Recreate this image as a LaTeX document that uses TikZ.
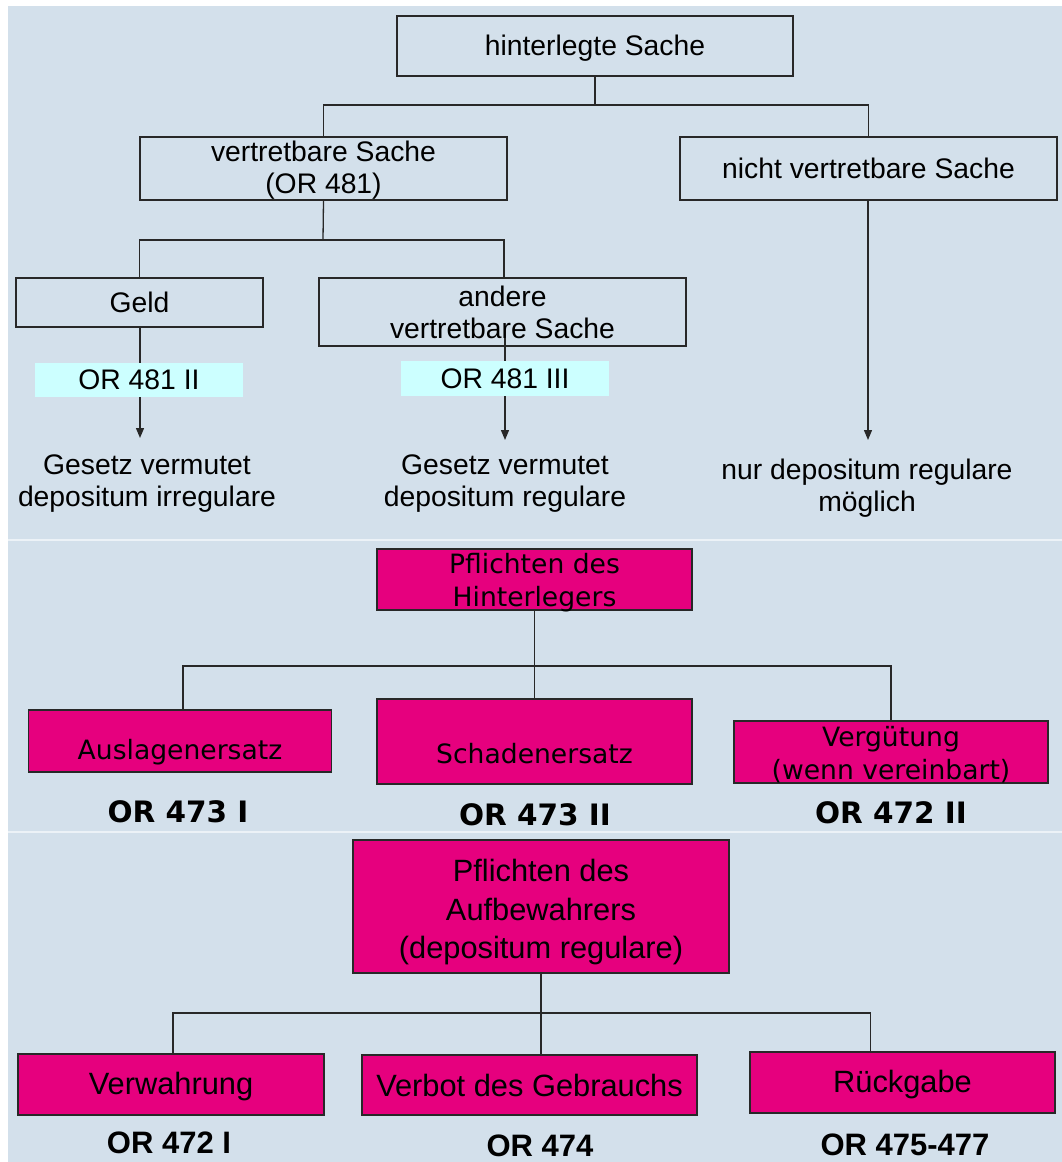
\documentclass[tikz,border=0pt]{standalone}
\usepackage{fontspec}
\setmainfont{Liberation Sans}
\newfontfamily\verdfont{DejaVu Sans}
\usetikzlibrary{arrows.meta}
\definecolor{bgblue}{RGB}{211,224,235}
\definecolor{sepline}{RGB}{236,242,247}
\definecolor{pinkfill}{RGB}{230,0,126}
\definecolor{cyanfill}{RGB}{204,255,255}
\definecolor{linec}{RGB}{40,40,40}
% lower a text line without changing the box it sits in
\newcommand\lowered[2]{\raisebox{-#1}[\height][\depth]{#2}}
\tikzset{
  conn/.style={draw=linec, line width=1.3pt},
  arr/.style={conn, -{Triangle[length=10pt,width=8pt]}},
  topfont/.style={font=\fontsize{28.3}{32}\selectfont},
  plainbox/.style={draw=linec, line width=1.3pt, inner sep=0pt, align=center, topfont},
  midbox/.style={draw=linec, line width=1.1pt, fill=pinkfill, inner sep=0pt, align=center,
    font=\verdfont\fontsize{26.6}{33}\selectfont},
  lowbox/.style={draw=linec, line width=1.1pt, fill=pinkfill, inner sep=0pt, align=center,
    font=\fontsize{30.8}{38.5}\selectfont},
  cyanlab/.style={fill=cyanfill, inner sep=0pt, topfont},
  plaintext/.style={inner sep=0pt, align=center, topfont},
  midref/.style={inner sep=0pt, font=\verdfont\bfseries\fontsize{29.5}{32}\selectfont},
  lowref/.style={inner sep=0pt, font=\bfseries\fontsize{31}{34}\selectfont},
}
\begin{document}
\begin{tikzpicture}[x=1pt,y=-1pt]
\useasboundingbox (0,0) rectangle (1062,1162);
\fill[white] (0,0) rectangle (1062,1162);
\fill[bgblue] (8,6) rectangle (1062,1162);
% section separators
\draw[sepline, line width=2pt] (8,540) -- (1062,540);
\draw[sepline, line width=2pt] (8,832) -- (1062,832);

% ---------- kind of deposited thing ----------
\node[plainbox, minimum width=396pt, minimum height=60pt] (top) at (595,46) {\lowered{2pt}{hinterlegte Sache}};
\node[plainbox, minimum width=367pt, minimum height=63pt] (vs) at (323.5,168.5) {\lowered{2pt}{vertretbare Sache}\\\lowered{2pt}{(OR 481)}};
\node[plainbox, minimum width=377pt, minimum height=63pt] (nvs) at (868.5,168.5) {nicht vertretbare Sache};
\node[plainbox, minimum width=247pt, minimum height=49pt] (geld) at (139.5,302.5) {Geld};
\node[plainbox, minimum width=367pt, minimum height=68pt] (andere) at (502.5,312) {andere\\vertretbare Sache};

\coordinate (jt) at (595,105);
\coordinate (jv) at (323,240);
\draw[conn] (top.south) -- (jt);
\draw[conn] (vs.north) |- (jt) -| (nvs.north);
\draw[conn] (vs.south) -- (jv);
\draw[conn] (geld.north) |- (jv) -| ([xshift=1.5pt]andere.north);

\coordinate (a1) at (140,438);
\coordinate (a2) at (505,440);
\coordinate (a3) at (868,440);
\draw[arr] (geld.south -| a1) -- (a1);
\draw[arr] ([yshift=9pt]andere.south -| a2) -- (a2);
\draw[arr] (nvs.south -| a3) -- (a3);

\node[cyanlab, minimum width=208pt, minimum height=34pt] (c1) at (139,380) {OR 481 II};
\node[cyanlab, minimum width=208pt, minimum height=35pt] (c2) at (505,378.5) {OR 481 III};

\node[plaintext] (r1) at (147,484) {Gesetz vermutet\\depositum irregulare};
\node[plaintext] (r2) at (505,484) {Gesetz vermutet\\depositum regulare};
\node[plaintext] (r3) at (867,488) {nur depositum regulare\\möglich};

% ---------- duties of the depositor ----------
\node[midbox, minimum width=315pt, minimum height=61pt] (ph) at (534.5,579.5) {\lowered{3pt}{Pflichten des}\\\lowered{3pt}{Hinterlegers}};
\node[midbox, minimum width=303pt, minimum height=62pt] (aus) at (180,741) {\lowered{11pt}{Auslagenersatz}};
\node[midbox, minimum width=315pt, minimum height=85pt] (sch) at (534.5,741.5) {\lowered{12pt}{Schadenersatz}};
\node[midbox, minimum width=314pt, minimum height=62pt] (verg) at (891,752) {\lowered{3pt}{Vergütung}\\\lowered{3pt}{(wenn vereinbart)}};

\coordinate (jm) at (534.5,666);
\draw[conn] (ph.south) -- (sch.north);
\draw[conn] ([xshift=3pt]aus.north) |- (jm) -| (verg.north);

\node[midref] (l1) at (178,812) {OR 473 I};
\node[midref] (l2) at (535,815) {OR 473 II};
\node[midref] (l3) at (891,813) {OR 472 II};

% ---------- duties of the bailee ----------
\node[lowbox, minimum width=376pt, minimum height=133pt] (pa) at (541,906.5) {\lowered{6pt}{Pflichten des}\\\lowered{6pt}{Aufbewahrers}\\\lowered{6pt}{(depositum regulare)}};
\node[lowbox, minimum width=306pt, minimum height=61pt] (vw) at (171,1084.5) {\lowered{2pt}{Verwahrung}};
\node[lowbox, minimum width=335pt, minimum height=60pt] (vb) at (529.5,1085) {Verbot des Gebrauchs};
\node[lowbox, minimum width=305pt, minimum height=61pt] (rg) at (902.5,1082.5) {\lowered{2pt}{Rückgabe}};

\coordinate (jb) at (541,1013);
\draw[conn] (pa.south) -- (pa.south |- vb.north);
\draw[conn] ([xshift=2pt]vw.north) |- (jb) -| ([xshift=-32pt]rg.north);

\node[lowref] (m1) at (169,1143) {OR 472 I};
\node[lowref] (m2) at (540,1146) {OR 474};
\node[lowref] (m3) at (905,1145) {OR 475-477};
\end{tikzpicture}
\end{document}
